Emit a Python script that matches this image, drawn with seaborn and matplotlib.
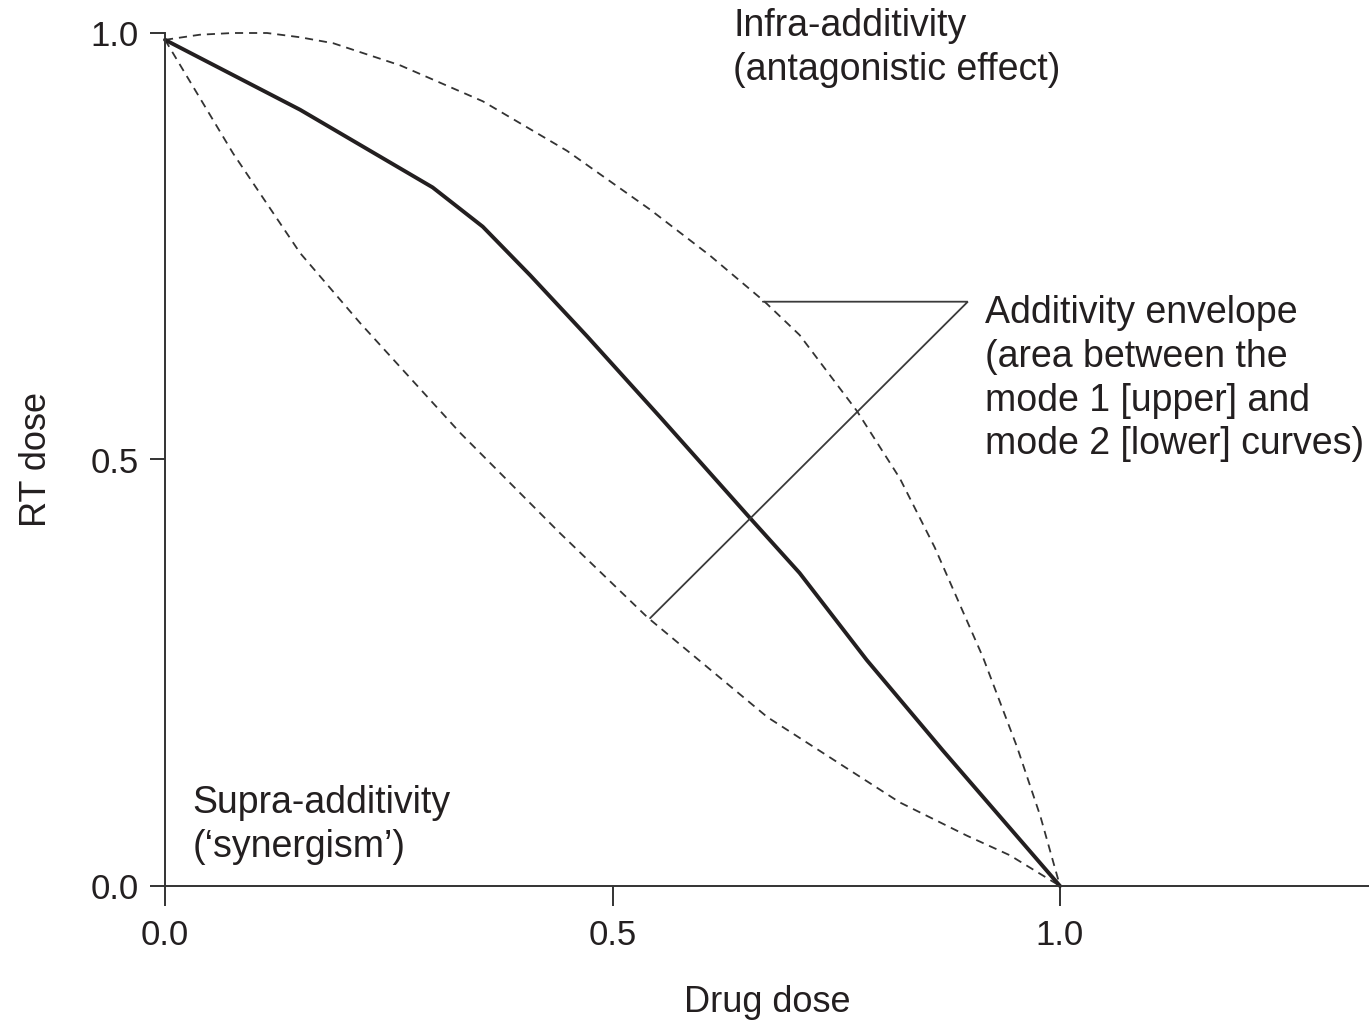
import matplotlib
matplotlib.use("Agg")
import matplotlib.pyplot as plt
import seaborn as sns
import pandas as pd

# ---- data ----
drug_additive = [0.0, 0.151, 0.299, 0.355, 0.408, 0.472, 0.553, 0.654, 0.709, 0.784, 0.869, 1.0]
rt_additive = [0.992, 0.910, 0.819, 0.773, 0.716, 0.644, 0.550, 0.431, 0.367, 0.265, 0.159, 0.0]

drug_mode1 = [0.0, 0.039, 0.076, 0.114, 0.151, 0.188, 0.263, 0.355, 0.449, 0.542, 0.609,
              0.670, 0.709, 0.773, 0.821, 0.860, 0.914, 0.952, 0.978, 1.0]
rt_mode1 = [0.992, 0.998, 1.0, 1.0, 0.995, 0.988, 0.962, 0.920, 0.862, 0.793, 0.739,
            0.685, 0.646, 0.557, 0.478, 0.397, 0.268, 0.163, 0.082, 0.0]

drug_mode2 = [0.0, 0.076, 0.151, 0.218, 0.330, 0.441, 0.539, 0.673, 0.821, 0.896, 0.944, 1.0]
rt_mode2 = [0.992, 0.859, 0.742, 0.660, 0.531, 0.414, 0.315, 0.198, 0.098, 0.059, 0.036, 0.0]

# leader line of the "Additivity envelope" label
leader_x = [0.668, 0.897, 0.542]
leader_y = [0.685, 0.685, 0.314]

x_ticks = [0.0, 0.5, 1.0]
y_ticks = [0.0, 0.5, 1.0]
tick_labels = ["0.0", "0.5", "1.0"]

label_infra = "Infra-additivity\n(antagonistic effect)"
label_envelope = ("Additivity envelope\n(area between the\n"
                  "mode 1 [upper] and\nmode 2 [lower] curves)")
label_supra = "Supra-additivity\n(\u2018synergism\u2019)"

# ---- style ----
sns.set_theme(style="ticks")
plt.rcParams["font.family"] = ["Liberation Sans", "DejaVu Sans"]
INK = "#231f20"

W, H = 1369, 1022
fig = plt.figure(figsize=(W / 100, H / 100), dpi=100)
ax = fig.add_axes([165 / W, 1 - 886 / H, (W - 165) / W, (886 - 33) / H])

df_add = pd.DataFrame({"drug": drug_additive, "rt": rt_additive})
df_m1 = pd.DataFrame({"drug": drug_mode1, "rt": rt_mode1})
df_m2 = pd.DataFrame({"drug": drug_mode2, "rt": rt_mode2})

dash = (0, (4.5, 3.3))
sns.lineplot(data=df_m1, x="drug", y="rt", ax=ax, color="#333333", lw=1.3,
             linestyle=dash, estimator=None, sort=False, clip_on=False)
sns.lineplot(data=df_m2, x="drug", y="rt", ax=ax, color="#333333", lw=1.3,
             linestyle=dash, estimator=None, sort=False, clip_on=False)
sns.lineplot(data=df_add, x="drug", y="rt", ax=ax, color=INK, lw=2.8,
             estimator=None, sort=False, clip_on=False)
ax.plot(leader_x, leader_y, color="#3a3a3a", lw=1.3, solid_joinstyle="miter")

ax.set_xlim(0, (W - 165) / 895)
ax.set_ylim(0, 1.0)
ax.set_xticks(x_ticks)
ax.set_xticklabels(tick_labels)
ax.set_yticks(y_ticks)
ax.set_yticklabels(tick_labels)

for s in ["top", "right"]:
    ax.spines[s].set_visible(False)
for s in ["left", "bottom"]:
    ax.spines[s].set_color("#333333")
    ax.spines[s].set_linewidth(1.4)
ax.spines["left"].set_bounds(0, 1)

ax.tick_params(axis="x", direction="out", length=14.5, width=1.4, color="#333333",
               labelsize=25, labelcolor=INK, pad=9)
ax.tick_params(axis="y", direction="out", length=11, width=1.4, color="#333333",
               labelsize=25, labelcolor=INK, pad=8)

ax.set_xlabel("Drug dose", fontsize=26, color=INK, labelpad=24)
ax.set_ylabel("RT dose", fontsize=26, color=INK, labelpad=26)

# va="baseline" on multi-line text anchors the last line's baseline
txt = dict(fontsize=27, color=INK, ha="left", va="baseline", linespacing=1.28)
ax.text(0.635, 0.945, label_infra, **txt)
ax.text(0.916, 0.506, label_envelope, **txt)
ax.text(0.031, 0.034, label_supra, **txt)

fig.savefig("out.png", dpi=100)
